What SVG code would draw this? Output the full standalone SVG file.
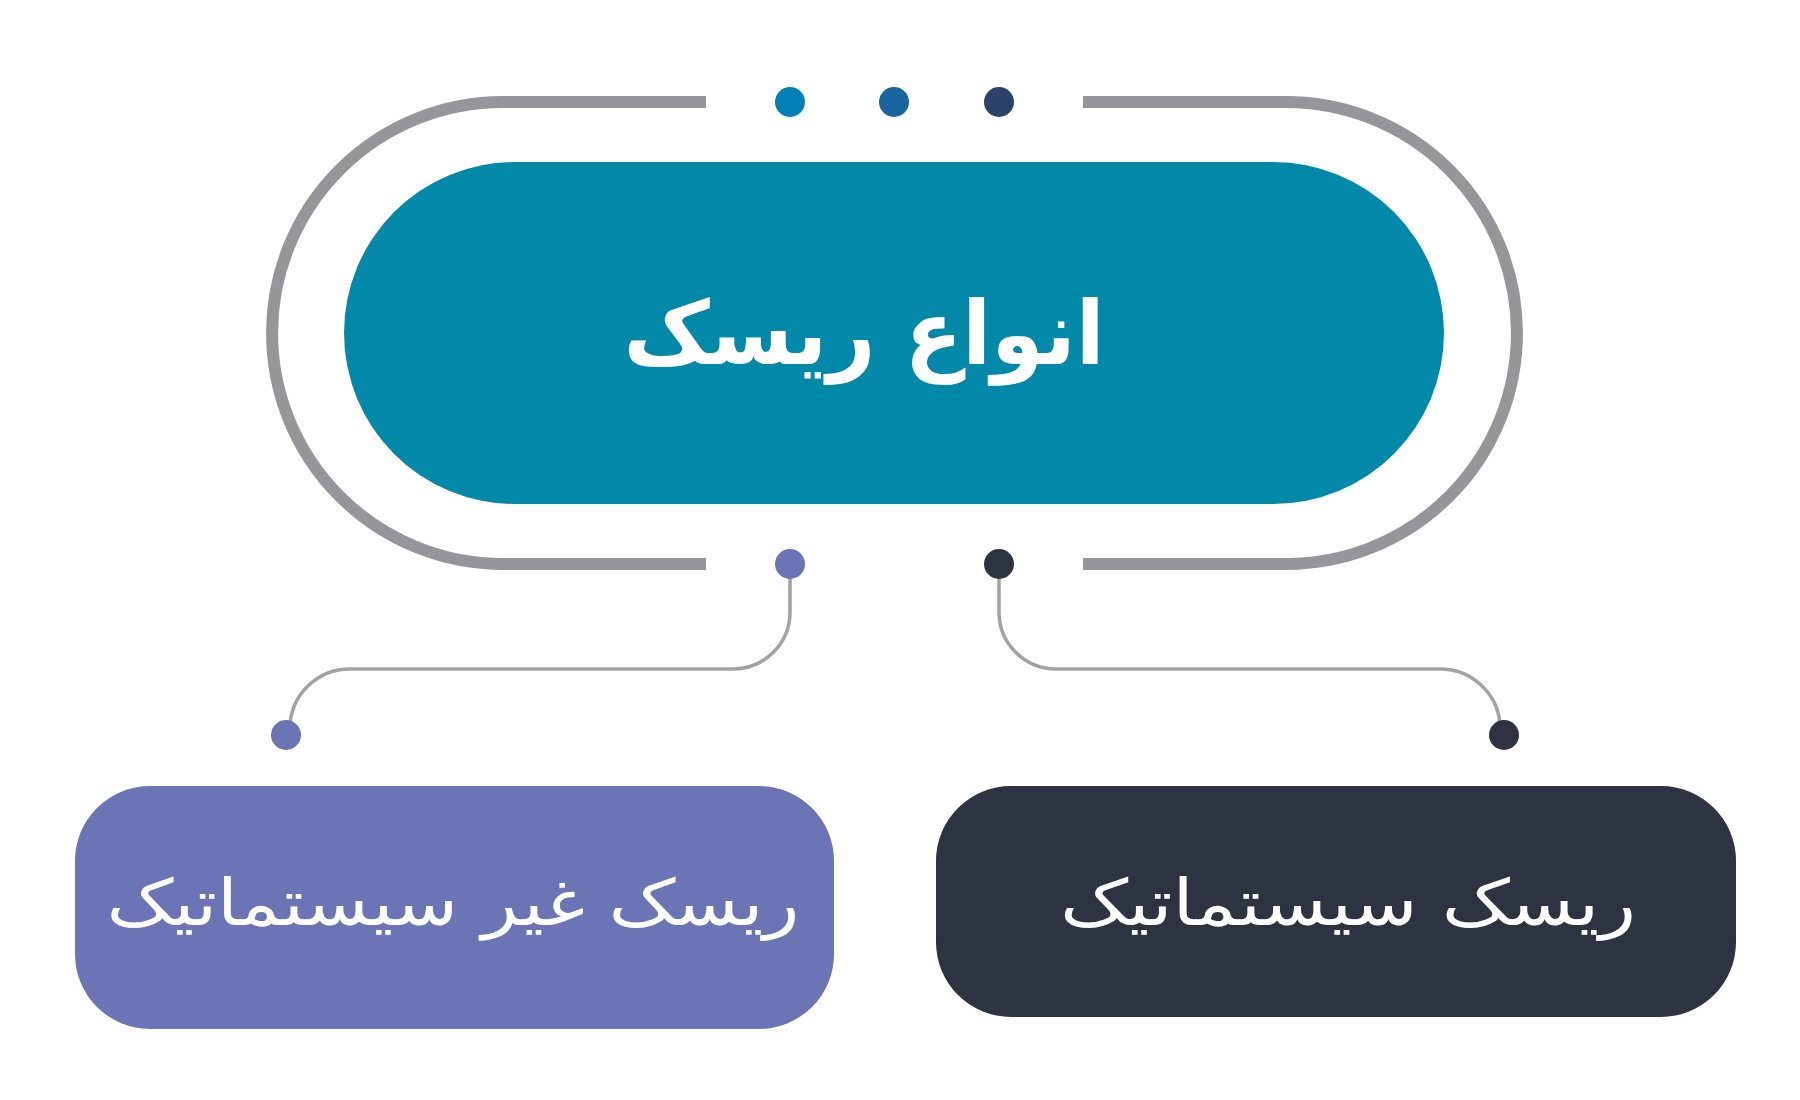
<svg xmlns="http://www.w3.org/2000/svg" width="1800" height="1100" viewBox="0 0 1800 1100">
<style>
.ring{fill:none;stroke:#96959A;stroke-width:12}
.conn{fill:none;stroke:#A2A1A6;stroke-width:3.5}
.lbl{font-family:"DejaVu Sans",sans-serif;fill:#FFFFFF;text-anchor:middle}
</style>
<rect width="1800" height="1100" fill="#FFFFFF"/>
<g id="frame">
<path class="ring" d="M706 102 L503 102 A231 231 0 0 0 503 564 L706 564"/>
<path class="ring" d="M1083 102 L1286 102 A231 231 0 0 1 1286 564 L1083 564"/>
<circle cx="790" cy="102" r="15" fill="#0380B5"/>
<circle cx="894" cy="102" r="15" fill="#1A64A0"/>
<circle cx="999" cy="102" r="15" fill="#2B426B"/>
</g>
<g id="connectors">
<path class="conn" d="M790 570 L790 612 A57 57 0 0 1 733 669 L350 669 A60 60 0 0 0 290 724"/>
<path class="conn" d="M999 570 L999 612 A57 57 0 0 0 1056 669 L1440 669 A60 60 0 0 1 1500 724"/>
<circle cx="790" cy="564" r="15" fill="#6B74B5"/>
<circle cx="999" cy="564" r="15" fill="#2E3342"/>
<circle cx="286" cy="735" r="15" fill="#6B74B5"/>
<circle cx="1504" cy="735" r="15" fill="#2E3342"/>
</g>
<g id="root">
<rect x="344" y="162" width="1100" height="342" rx="171" fill="#0288A8"/>
<text class="lbl" x="864" y="364" font-size="88" font-weight="bold" direction="rtl" textLength="481" lengthAdjust="spacingAndGlyphs">انواع ریسک</text>
</g>
<g id="unsystematic">
<rect x="75" y="786" width="759" height="243" rx="75" fill="#6B74B5"/>
<text class="lbl" x="453" y="925" font-size="64" direction="rtl" textLength="693" lengthAdjust="spacingAndGlyphs">ریسک غیر سیستماتیک</text>
</g>
<g id="systematic">
<rect x="936" y="786" width="800" height="231" rx="75" fill="#2E3342"/>
<text class="lbl" x="1348" y="925" font-size="64" direction="rtl" textLength="576" lengthAdjust="spacingAndGlyphs">ریسک سیستماتیک</text>
</g>
</svg>
